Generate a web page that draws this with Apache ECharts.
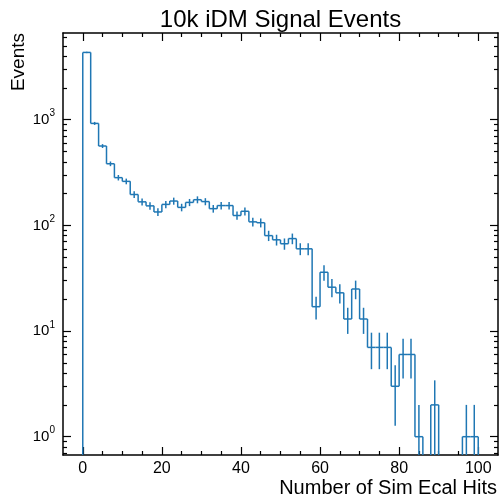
<!DOCTYPE html>
<html><head><meta charset="utf-8">
<script src="https://cdn.jsdelivr.net/npm/echarts@6/dist/echarts.min.js"></script>
<style>html,body{margin:0;padding:0;background:#fff}#c{width:501px;height:498px}</style>
</head><body><div id="c"></div>
<script>
// ---- data ----
const binEdges = [0,2,4,6,8,10,12,14,16,18,20,22,24,26,28,30,32,34,36,38,40,42,44,46,48,50,52,54,56,58,60,62,64,66,68,70,72,74,76,78,80,82,84,86,88,90,92,94,96,98,100];
const counts = [4335,923,564,383,283,261,196,167,153,134,158,170,148,165,175,168,144,154,154,124,136,108,106,80,73,67,75,60,60,17,36,26,23,13,25,13,7,7,7,3,6,6,1,0,2,0,0,0,1,1];
const xMajorTicks = [0,20,40,60,80,100];
const xMinorTicks = [5,10,15,25,30,35,45,50,55,65,70,75,85,90,95];
const yMajorTicks = [1,10,100,1000];
const yMinorTicks = [0.7,0.8,0.9,2,3,4,5,6,7,8,9,20,30,40,50,60,70,80,90,200,300,400,500,600,700,800,900,2000,3000,4000,5000,6000];
const titleText = '10k iDM Signal Events';
const xLabel = 'Number of Sim Ecal Hits';
const yLabel = 'Events';

const X_MIN = -5, X_MAX = 105, Y_MIN = 0.671, Y_MAX = 6620;
const COLOR = '#1f77b4';
const FONT = 'Liberation Sans, Arial, Helvetica, sans-serif';

const data = counts.map((c, i) => [binEdges[i], binEdges[i + 1], c, i + 1 < counts.length ? counts[i + 1] : 0]);

function xAxis(pos, values, len, labels, line) {
  return {
    type: 'value', position: pos, min: X_MIN, max: X_MAX, gridIndex: 0,
    axisLine: { show: line, onZero: false, lineStyle: { color: '#000', width: 1.5 } },
    axisTick: { show: true, inside: true, length: len, customValues: values, lineStyle: { color: '#000', width: 1.2 } },
    axisLabel: labels ? { show: true, customValues: values, margin: 6, color: '#000', fontSize: 16, fontFamily: FONT } : { show: false },
    splitLine: { show: false }
  };
}
function yAxis(pos, values, len, labels, line) {
  return {
    type: 'log', logBase: 10, position: pos, min: Y_MIN, max: Y_MAX, gridIndex: 0,
    axisLine: { show: line, onZero: false, lineStyle: { color: '#000', width: 1.5 } },
    axisTick: { show: true, inside: true, length: len, customValues: values, lineStyle: { color: '#000', width: 1.2 } },
    axisLabel: labels ? {
      show: true, customValues: values, margin: 8, color: '#000', fontFamily: FONT,
      formatter: v => '{b|10}{s|' + Math.round(Math.log10(v)) + '}',
      rich: {
        b: { fontSize: 15, lineHeight: 22, fontFamily: FONT, color: '#000' },
        s: { fontSize: 10, lineHeight: 14, verticalAlign: 'top', fontFamily: FONT, color: '#000' }
      }
    } : { show: false },
    splitLine: { show: false }
  };
}

const chart = echarts.init(document.getElementById('c'), null, { renderer: 'canvas' });
chart.setOption({
  animation: false,
  backgroundColor: '#fff',
  grid: { left: 63, right: 3, top: 33, bottom: 43, containLabel: false },
  xAxis: [
    xAxis('bottom', xMajorTicks, 8, true, true),
    xAxis('bottom', xMinorTicks, 4, false, false),
    xAxis('top', xMajorTicks, 8, false, true),
    xAxis('top', xMinorTicks, 4, false, false)
  ],
  yAxis: [
    yAxis('left', yMajorTicks, 8, true, true),
    yAxis('left', yMinorTicks, 4, false, false),
    yAxis('right', yMajorTicks, 8, false, true),
    yAxis('right', yMinorTicks, 4, false, false)
  ],
  graphic: [
    { type: 'text', x: 280.5, y: 20, style: { text: titleText, font: '24px ' + FONT, fill: '#000', align: 'center', verticalAlign: 'middle' } },
    { type: 'text', x: 497, y: 488, style: { text: xLabel, font: '20px ' + FONT, fill: '#000', align: 'right', verticalAlign: 'middle' } },
    { type: 'text', x: 19, y: 33, rotation: Math.PI / 2, style: { text: yLabel, font: '19px ' + FONT, fill: '#000', align: 'right', verticalAlign: 'middle' } }
  ],
  series: [{
    type: 'custom',
    xAxisIndex: 0, yAxisIndex: 0,
    clip: true,
    encode: { x: [0, 1], y: 2 },
    data: data,
    renderItem: function (params, api) {
      const x0 = api.value(0), x1 = api.value(1), c = api.value(2), next = api.value(3);
      const yv = v => (v > 0 ? v : Y_MIN);
      const style = { stroke: COLOR, lineWidth: 1.5, fill: null };
      const ch = [];
      const seg = (a, b) => ch.push({ type: 'line', shape: { x1: a[0], y1: a[1], x2: b[0], y2: b[1] }, style: style });
      if (c > 0) {
        seg(api.coord([x0, c]), api.coord([x1, c]));
        const e = Math.sqrt(c);
        const xc = (x0 + x1) / 2;
        seg(api.coord([xc, c + e]), api.coord([xc, yv(c - e)]));
      }
      if (params.dataIndex === 0) seg(api.coord([x0, Y_MIN]), api.coord([x0, yv(c)]));
      if (c > 0 || next > 0) seg(api.coord([x1, yv(c)]), api.coord([x1, yv(next)]));
      return { type: 'group', children: ch };
    }
  }]
});
</script>
</body></html>
